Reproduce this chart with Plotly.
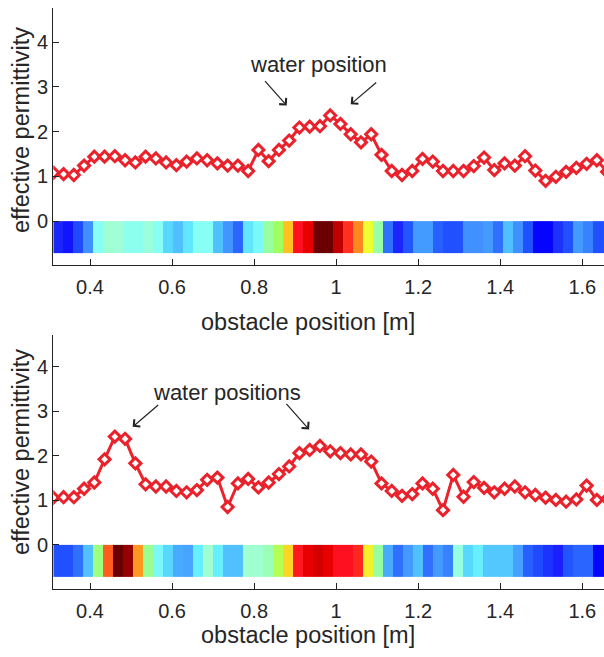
import plotly.graph_objects as go

# ---------------- data ----------------
x_start = 0.3105
x_step = 0.025
n_points = 55
obstacle_pos = [round(x_start + x_step * k, 4) for k in range(n_points)]

eps_top = [1.08, 1.05, 1.03, 1.24, 1.44, 1.44, 1.45, 1.36, 1.31, 1.44,
           1.40, 1.31, 1.25, 1.33, 1.40, 1.36, 1.29, 1.24, 1.24, 1.12,
           1.59, 1.34, 1.59, 1.80, 2.09, 2.11, 2.12, 2.36, 2.17, 1.94,
           1.76, 1.94, 1.48, 1.12, 1.03, 1.12, 1.39, 1.33, 1.12, 1.12,
           1.12, 1.23, 1.42, 1.14, 1.29, 1.24, 1.45, 1.13, 0.90, 0.99,
           1.10, 1.19, 1.28, 1.36, 1.10]

eps_bottom = [1.06, 1.07, 1.07, 1.26, 1.40, 1.92, 2.43, 2.38, 1.83, 1.36,
              1.31, 1.31, 1.21, 1.18, 1.23, 1.46, 1.51, 0.85, 1.38, 1.48,
              1.29, 1.40, 1.59, 1.76, 2.06, 2.13, 2.22, 2.10, 2.06, 2.03,
              2.03, 1.87, 1.38, 1.21, 1.10, 1.14, 1.38, 1.26, 0.78, 1.57,
              1.08, 1.41, 1.28, 1.18, 1.26, 1.31, 1.18, 1.12, 1.06, 1.01,
              0.97, 1.02, 1.33, 1.01, 1.03]

# colour-strip values (0..1, jet-like map), one per strip cell
strip_top = [0.08, 0.04, 0.14, 0.28, 0.50, 0.56, 0.55, 0.51, 0.51, 0.54,
             0.50, 0.40, 0.37, 0.43, 0.50, 0.50, 0.37, 0.29, 0.19, 0.43,
             0.48, 0.62, 0.66, 0.745, 0.86, 0.90, 1.00, 1.00, 0.94, 0.82,
             0.78, 0.70, 0.61, 0.21, 0.08, 0.16, 0.30, 0.30, 0.18, 0.15,
             0.15, 0.28, 0.28, 0.30, 0.21, 0.37, 0.28, 0.15, 0.00, 0.00,
             0.10, 0.15, 0.30, 0.25, 0.15, 0.15]

strip_bottom = [0.15, 0.15, 0.21, 0.37, 0.64, 0.80, 1.00, 0.97, 0.77, 0.63,
                0.48, 0.40, 0.33, 0.32, 0.45, 0.56, 0.45, 0.37, 0.37, 0.56,
                0.56, 0.59, 0.67, 0.73, 0.85, 0.90, 0.92, 0.90, 0.86, 0.86,
                0.83, 0.71, 0.62, 0.33, 0.21, 0.30, 0.37, 0.21, 0.30, 0.25,
                0.53, 0.40, 0.45, 0.38, 0.38, 0.38, 0.31, 0.18, 0.14, 0.10,
                0.07, 0.16, 0.19, 0.19, 0.00, 0.00]

x_ticks = [0.4, 0.6, 0.8, 1.0, 1.2, 1.4, 1.6]
x_ticktext = ["0.4", "0.6", "0.8", "1", "1.2", "1.4", "1.6"]
y_ticks = [0, 1, 2, 3, 4]

strip_scale = [
    [0.00, "#0505ff"], [0.07, "#1a20ff"], [0.15, "#2050ff"], [0.21, "#3070ff"],
    [0.28, "#4090ff"], [0.31, "#45a0ff"], [0.37, "#50c0ff"], [0.40, "#58d8ff"],
    [0.45, "#66f0ff"], [0.50, "#88fff4"], [0.55, "#a0ffd8"], [0.62, "#98ffa0"],
    [0.66, "#a0ff60"], [0.70, "#f0ff30"], [0.74, "#ffc820"], [0.78, "#ff8820"],
    [0.82, "#ff3020"], [0.86, "#ff1020"], [0.90, "#e80000"], [0.94, "#c00000"],
    [1.00, "#6a0000"],
]

# ---------------- figure ----------------
W, H = 604, 657
RED = "#e9222c"
FONT = "Liberation Sans, Arial, sans-serif"
TXT = "#262626"

fig = go.Figure()

def add_panel(eps, strip, xa, ya, xs):
    fig.add_trace(go.Heatmap(
        z=[strip], x0=0.5, dx=1, y0=-0.36, dy=0.72,
        colorscale=strip_scale, zmin=0, zmax=1, showscale=False,
        hoverinfo="skip", xaxis=xs, yaxis=ya))
    fig.add_trace(go.Scatter(
        x=obstacle_pos, y=eps, mode="lines+markers",
        line=dict(color=RED, width=3),
        marker=dict(symbol="diamond", size=8.5, color="white",
                    line=dict(color=RED, width=3)),
        cliponaxis=True, xaxis=xa, yaxis=ya))

add_panel(eps_top, strip_top, "x", "y", "x3")
add_panel(eps_bottom, strip_bottom, "x2", "y2", "x4")

xdom = [53.3 / W, 1.0]
ydom_top = [1 - 265 / H, 1 - 8 / H]
ydom_bot = [1 - 589 / H, 1 - 335 / H]
xr = [0.3105, 1.6529]
yr_top = [-0.98, 4.76]
yr_bot = [-0.99, 4.71]

xcommon = dict(domain=xdom, range=xr, tickvals=x_ticks, ticktext=x_ticktext,
               ticks="inside", ticklen=6, tickcolor="#222", tickwidth=1,
               showline=True, linecolor="#222", linewidth=1.3,
               showgrid=False, zeroline=False,
               tickfont=dict(family=FONT, size=20, color=TXT),
               ticklabelstandoff=4)
ycommon = dict(tickvals=y_ticks, ticks="inside", ticklen=6, tickcolor="#222",
               tickwidth=1, showline=True, linecolor="#222", linewidth=1.3,
               showgrid=False, zeroline=False,
               tickfont=dict(family=FONT, size=20, color=TXT))
stripx = dict(domain=xdom, range=[0, 55.1], visible=False, showgrid=False,
              zeroline=False)

fig.update_layout(
    width=W, height=H, margin=dict(l=0, r=0, t=0, b=0),
    paper_bgcolor="white", plot_bgcolor="white", showlegend=False,
    xaxis=dict(anchor="y", **xcommon),
    xaxis2=dict(anchor="y2", **xcommon),
    xaxis3=dict(anchor="y", overlaying="x", **stripx),
    xaxis4=dict(anchor="y2", overlaying="x2", **stripx),
    yaxis=dict(anchor="x", domain=ydom_top, range=yr_top, **ycommon),
    yaxis2=dict(anchor="x2", domain=ydom_bot, range=yr_bot, **ycommon),
)

title_font = dict(family=FONT, size=23.5, color=TXT)
ann_font = dict(family=FONT, size=22, color=TXT)

def paper_text(text, px, py, angle=0):
    fig.add_annotation(text=text, xref="paper", yref="paper",
                       x=px / W, y=1 - py / H, showarrow=False,
                       xanchor="center", yanchor="middle", textangle=angle,
                       font=title_font)

# axis titles
paper_text("effective permittivity", 21, 130, -90)
paper_text("effective permittivity", 21, 452, -90)
paper_text("obstacle position [m]", 308, 322)
paper_text("obstacle position [m]", 308, 635)

# annotation texts
fig.add_annotation(text="water position", xref="x", yref="y", x=0.9575, y=3.49,
                   showarrow=False, font=ann_font)
fig.add_annotation(text="water positions", xref="x2", yref="y2", x=0.734, y=3.41,
                   showarrow=False, font=ann_font)

# arrows (head in data coords, tail offset in px)
arrows = [
    ("x", "y", 0.8795, 2.58, -23, -26),
    ("x", "y", 1.0355, 2.61, 27, -23),
    ("x2", "y2", 0.504, 2.65, 27, -23),
    ("x2", "y2", 0.934, 2.59, -24, -27),
]
for xref, yref, hx, hy, ax, ay in arrows:
    fig.add_annotation(text="", xref=xref, yref=yref, x=hx, y=hy, ax=ax, ay=ay,
                       showarrow=True, arrowhead=4, arrowsize=1.5,
                       arrowwidth=1.2, arrowcolor="#222")

fig.write_html(
    "out.html",
    config={"displayModeBar": False},
    post_script="document.body.style.margin='0';document.body.style.overflow='hidden';",
)
